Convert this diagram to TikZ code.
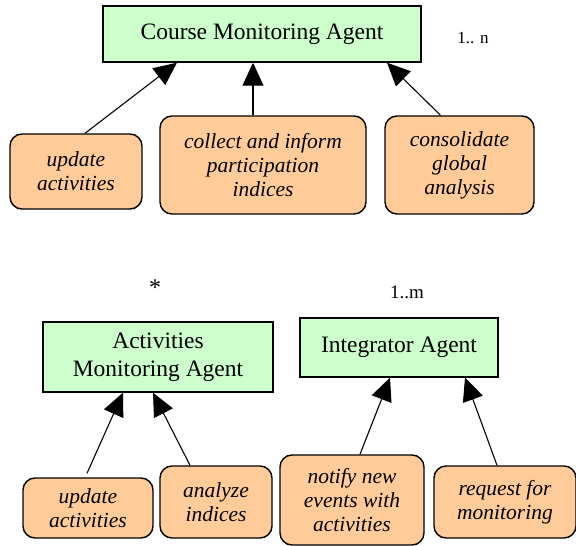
\documentclass[tikz,border=0pt]{standalone}
\usepackage{fontspec}
\setmainfont{Liberation Serif}
\newfontfamily\timesfont{Liberation Serif}
\usetikzlibrary{arrows.meta,calc}
\definecolor{AgentGreen}{HTML}{CCFFCC}
\definecolor{RoleOrange}{HTML}{FFCC99}
\tikzset{
  agent/.style={
    draw=black, line width=1.4pt, fill=AgentGreen, align=center,
    inner sep=2pt, font=\timesfont\fontsize{23.5}{28}\selectfont
  },
  role/.style={
    rounded corners=12pt, draw=black, line width=1.4pt, fill=RoleOrange,
    align=center, inner sep=2pt, font=\timesfont\fontsize{21.5}{24}\selectfont\itshape
  },
  mult/.style={font=\timesfont\fontsize{19}{22}\selectfont},
  link/.style={-{Triangle[length=23pt,width=21pt]}, line width=1.1pt, draw=black}
}

\begin{document}
\begin{tikzpicture}[x=1pt,y=-1pt]
    \useasboundingbox (0,0) rectangle (576,546);
    % course level
    \node[agent,minimum width=318pt,minimum height=56pt] (course) at (262,34) {Course Monitoring Agent};
    \node[mult,font=\timesfont\fontsize{17}{20}\selectfont] (courseMult) at (473,38) {1.. n};
    \node[role,minimum width=132pt,minimum height=75pt] (updateA) at (76,171.5) {update\\activities};
    \node[role,minimum width=206pt,minimum height=98pt] (collect) at (263,165) {collect and inform\\participation\\indices};
    \node[role,minimum width=149pt,minimum height=98pt] (consolidate) at (459.5,165) {consolidate\\global\\analysis};
    \draw[link] ($(updateA.north)+(9,0)$)--($(course.south)+(-85,0)$);
    \draw[link] ($(collect.north)+(-10,0)$)--($(course.south)+(-9,0)$);
    \draw[link] ($(consolidate.north)+(-19,0)$)--($(course.south)+(125,0)$);
    % activity level
    \node[mult,font=\timesfont\fontsize{24}{24}\selectfont] (actMult) at (155,288) {*};
    \node[mult] (intMult) at (407,292) {1..m};
    \node[agent,minimum width=230pt,minimum height=70pt] (actMon) at (158,357) {Activities\\Monitoring Agent};
    \node[agent,minimum width=198pt,minimum height=59pt] (integrator) at (399,347.5) {Integrator Agent};
    \node[role,minimum width=130pt,minimum height=60pt] (updateB) at (88,508) {update\\activities};
    \node[role,minimum width=112pt,minimum height=72pt] (analyze) at (216,502) {analyze\\indices};
    \node[role,minimum width=144pt,minimum height=90pt] (notify) at (352,500) {notify new\\events with\\activities};
    \node[role,minimum width=142pt,minimum height=72pt] (request) at (505,502) {request for\\monitoring};
    \draw[link] ($(updateB.north)+(-1,-4)$)--($(actMon.south)+(-35,0)$);
    \draw[link] ($(analyze.north)+(-26,0)$)--($(actMon.south)+(-5,0)$);
    \draw[link] ($(notify.north)+(8,0)$)--($(integrator.south)+(-9,0)$);
    \draw[link] ($(request.north)+(-8,0)$)--($(integrator.south)+(66,0)$);
\end{tikzpicture}
\end{document}
